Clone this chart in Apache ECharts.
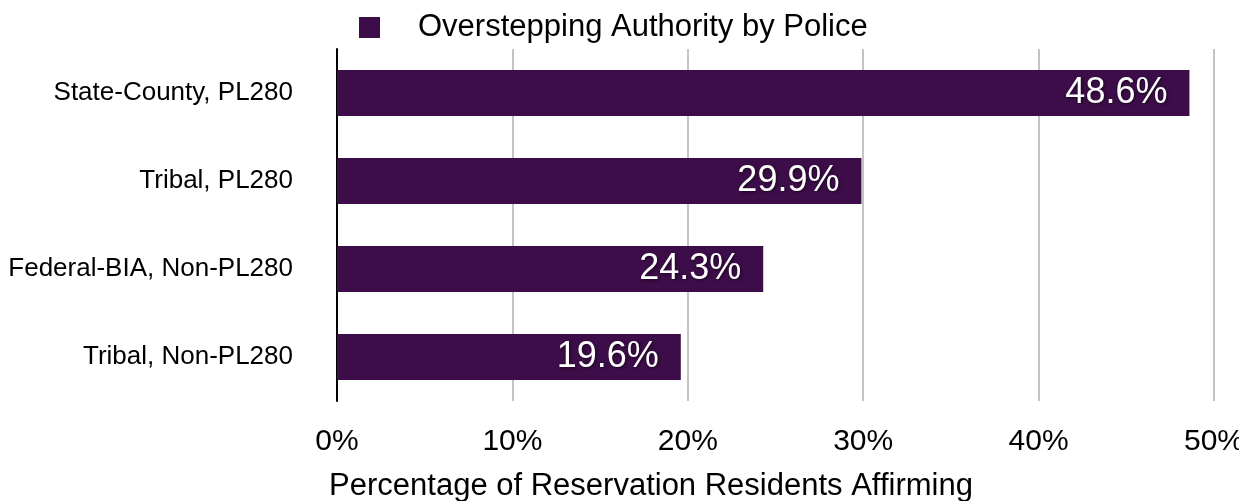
<!DOCTYPE html>
<html>
<head>
<meta charset="utf-8">
<script src="https://cdn.jsdelivr.net/npm/echarts@6/dist/echarts.min.js"></script>
<style>
  html, body { margin: 0; padding: 0; background: #fff; }
  #chart { width: 1239px; height: 501px; }
</style>
</head>
<body>
<div id="chart"></div>
<script>
const categories = [
  "State-County, PL280",
  "Tribal, PL280",
  "Federal-BIA, Non-PL280",
  "Tribal, Non-PL280",
];
const seriesName = "Overstepping Authority by Police";
const values = [48.6, 29.9, 24.3, 19.6];
const xTicks = [0, 10, 20, 30, 40, 50];

const font = "'Liberation Sans', Arial, sans-serif";
const chart = echarts.init(document.getElementById("chart"));

chart.setOption({
  backgroundColor: "#fff",
  animation: false,
  textStyle: { fontFamily: font },
  title: {
    // axis name, not centred on the plot in the original
    text: "Percentage of Reservation Residents Affirming",
    left: 646,
    top: 466,
    textAlign: "center",
    textStyle: { fontFamily: font, fontSize: 31, fontWeight: "normal", color: "#000" },
  },
  legend: {
    data: [seriesName],
    left: 354,
    top: 7,
    icon: "rect",
    itemWidth: 21,
    itemHeight: 21,
    textStyle: {
      fontFamily: font,
      fontSize: 31,
      color: "#000",
      padding: [0, 0, 0, 33],
    },
  },
  grid: { left: 337, right: 25, top: 49, bottom: 100, outerBoundsMode: "none" },
  xAxis: {
    type: "value",
    min: xTicks[0],
    max: xTicks[xTicks.length - 1],
    interval: 10,
    axisLine: { show: false },
    axisTick: { show: false },
    splitLine: { show: true, lineStyle: { color: "#c4c4c4", width: 2 } },
    axisLabel: {
      formatter: (v) => v + "%",
      fontFamily: font,
      fontSize: 30,
      color: "#000",
      margin: 26,
    },
  },
  yAxis: {
    type: "category",
    inverse: true,
    data: categories,
    axisTick: { show: false },
    axisLine: { show: true, lineStyle: { color: "#000", width: 2 } },
    axisLabel: {
      fontFamily: font,
      fontSize: 26,
      color: "#000",
      margin: 44,
    },
  },
  series: [
    {
      name: seriesName,
      type: "bar",
      data: values,
      barWidth: 46,
      itemStyle: { color: "#3c0d48" },
      label: {
        show: true,
        position: "insideRight",
        distance: 22,
        formatter: (p) => p.value.toFixed(1) + "%",
        fontFamily: font,
        fontSize: 36,
        color: "#fff",
        textShadowColor: "rgba(0,0,0,0.6)",
        textShadowBlur: 3,
        textShadowOffsetX: 1,
        textShadowOffsetY: 1,
      },
    },
  ],
});
</script>
</body>
</html>
